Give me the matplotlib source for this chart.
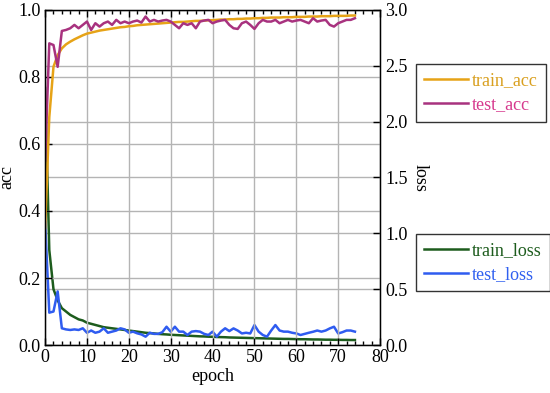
import matplotlib
matplotlib.use("Agg")
import matplotlib.pyplot as plt
import numpy as np

# per-epoch values
epochs = list(range(75))

train_acc = [0.35, 0.68, 0.83, 0.865, 0.885, 0.897, 0.905, 0.912, 0.918, 0.924,
             0.929, 0.932, 0.935, 0.938, 0.940, 0.942, 0.944, 0.946, 0.948, 0.949,
             0.951, 0.952, 0.954, 0.955, 0.956, 0.957, 0.958, 0.959, 0.960, 0.961,
             0.962, 0.963, 0.964, 0.964, 0.965, 0.966, 0.967, 0.967, 0.968, 0.969,
             0.969, 0.970, 0.971, 0.971, 0.972, 0.972, 0.973, 0.973, 0.974, 0.974,
             0.975, 0.975, 0.976, 0.976, 0.977, 0.977, 0.977, 0.978, 0.978, 0.978,
             0.979, 0.979, 0.979, 0.980, 0.980, 0.980, 0.981, 0.981, 0.981, 0.982,
             0.982, 0.982, 0.982, 0.983, 0.983]

test_acc = [0.55, 0.900, 0.895, 0.830, 0.937, 0.940, 0.945, 0.955, 0.945, 0.955,
            0.965, 0.940, 0.960, 0.950, 0.960, 0.965, 0.955, 0.970, 0.960, 0.965,
            0.960, 0.965, 0.968, 0.962, 0.980, 0.965, 0.970, 0.965, 0.968, 0.970,
            0.965, 0.955, 0.945, 0.960, 0.955, 0.960, 0.945, 0.965, 0.968, 0.970,
            0.960, 0.965, 0.968, 0.970, 0.955, 0.945, 0.943, 0.960, 0.965, 0.955,
            0.943, 0.960, 0.970, 0.965, 0.965, 0.970, 0.960, 0.965, 0.970, 0.965,
            0.968, 0.970, 0.965, 0.960, 0.975, 0.965, 0.968, 0.970, 0.955, 0.950,
            0.960, 0.965, 0.970, 0.970, 0.975]

train_loss = [2.30, 0.85, 0.50, 0.40, 0.33, 0.30, 0.27, 0.25, 0.23, 0.22,
              0.200, 0.190, 0.180, 0.170, 0.160, 0.155, 0.150, 0.145, 0.140, 0.135,
              0.130, 0.125, 0.120, 0.115, 0.110, 0.107, 0.104, 0.100, 0.097, 0.095,
              0.092, 0.090, 0.088, 0.086, 0.084, 0.082, 0.080, 0.078, 0.077, 0.075,
              0.074, 0.072, 0.071, 0.070, 0.068, 0.067, 0.066, 0.065, 0.064, 0.063,
              0.062, 0.061, 0.060, 0.059, 0.058, 0.057, 0.056, 0.055, 0.055, 0.054,
              0.053, 0.052, 0.052, 0.051, 0.050, 0.050, 0.049, 0.048, 0.048, 0.047,
              0.047, 0.046, 0.046, 0.045, 0.045]

test_loss = [1.10, 0.29, 0.30, 0.48, 0.15, 0.14, 0.135, 0.14, 0.135, 0.15,
             0.110, 0.130, 0.110, 0.120, 0.150, 0.110, 0.120, 0.130, 0.150, 0.140,
             0.110, 0.120, 0.105, 0.095, 0.075, 0.110, 0.100, 0.100, 0.115, 0.164,
             0.120, 0.164, 0.120, 0.120, 0.090, 0.120, 0.125, 0.120, 0.100, 0.090,
             0.120, 0.075, 0.120, 0.150, 0.125, 0.149, 0.130, 0.104, 0.110, 0.104,
             0.179, 0.120, 0.090, 0.075, 0.130, 0.179, 0.130, 0.120, 0.120, 0.110,
             0.104, 0.090, 0.100, 0.110, 0.119, 0.130, 0.120, 0.130, 0.149, 0.164,
             0.104, 0.115, 0.130, 0.130, 0.120]

acc_ticks = [0.0, 0.2, 0.4, 0.6, 0.8, 1.0]
loss_ticks = [0.0, 0.5, 1.0, 1.5, 2.0, 2.5, 3.0]
epoch_ticks = [0, 10, 20, 30, 40, 50, 60, 70, 80]

c_train_acc = "#e6a317"
c_test_acc = "#a8327f"
c_train_loss = "#1d5c1d"
c_test_loss = "#2f5cf0"
grid_c = "#b4b4b4"

plt.rcParams['font.family'] = ['Liberation Serif', 'DejaVu Serif']
plt.rcParams['font.size'] = 13

fig = plt.figure(figsize=(5.5, 3.93), dpi=100)
ax = fig.add_axes([0.082, 0.122, 0.609, 0.853])
ax2 = ax.twinx()

ax.set_zorder(ax2.get_zorder() + 1)
ax.patch.set_visible(False)

l1, = ax.plot(epochs, train_acc, color=c_train_acc, lw=1.8)
l2, = ax.plot(epochs, test_acc, color=c_test_acc, lw=1.8)
l3, = ax2.plot(epochs, train_loss, color=c_train_loss, lw=1.8)
l4, = ax2.plot(epochs, test_loss, color=c_test_loss, lw=1.8)

ax.set_xlim(0, 80)
ax.set_ylim(0, 1.0)
ax2.set_ylim(0, 3.0)
ax.set_xticks(epoch_ticks)
ax.set_xticks(np.arange(0, 81, 2), minor=True)
ax.set_yticks(acc_ticks)
ax.set_yticklabels(["%.1f" % v for v in acc_ticks])
ax2.set_yticks(loss_ticks)
ax2.set_yticklabels(["%.1f" % v for v in loss_ticks])

ax.tick_params(axis='x', which='both', direction='in', top=True, width=1, pad=3)
ax.tick_params(axis='x', which='major', length=5)
ax.tick_params(axis='x', which='minor', length=3)
ax.tick_params(axis='y', direction='in', length=5, width=1, pad=3)
ax2.tick_params(axis='y', direction='in', length=5, width=1, pad=4)

ax.grid(True, which='major', axis='both', color=grid_c, lw=1)
ax2.grid(True, which='major', axis='y', color=grid_c, lw=1)
ax2.set_axisbelow(True)

for sp in ax.spines.values():
    sp.set_linewidth(1)
    sp.set_color('black')

ax.set_xlabel("epoch", labelpad=1)
ax.set_ylabel("acc")
ax.yaxis.set_label_coords(-0.088, 0.5)
ax2.set_ylabel("loss", rotation=270, labelpad=15)

leg_kw = dict(loc='upper left', fancybox=False, edgecolor='#333333', framealpha=1,
              handlelength=2.4, borderpad=0.45, labelspacing=0.4,
              handletextpad=0.25, borderaxespad=0)
leg1 = fig.legend([l1, l2], ["train_acc", "test_acc"],
                  bbox_to_anchor=(0.757, 0.837), **leg_kw)
for t, c in zip(leg1.get_texts(), ["#d9a020", "#d6388d"]):
    t.set_color(c)
leg2 = fig.legend([l3, l4], ["train_loss", "test_loss"],
                  bbox_to_anchor=(0.757, 0.405), **leg_kw)
for t, c in zip(leg2.get_texts(), [c_train_loss, "#3060f0"]):
    t.set_color(c)

fig.savefig("out.png", dpi=100)
